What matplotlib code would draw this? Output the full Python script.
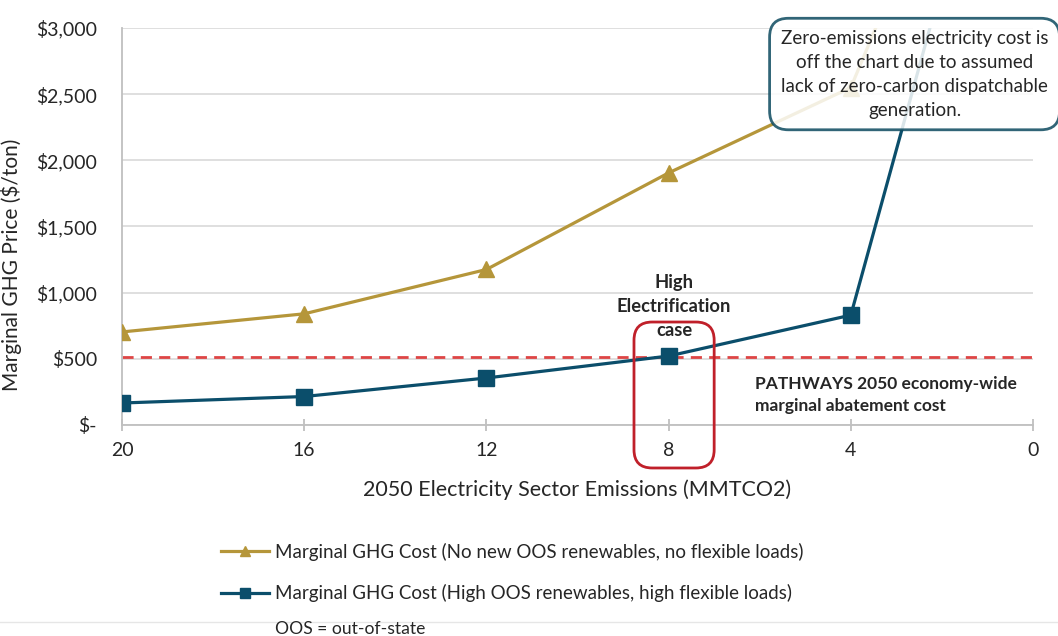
import matplotlib
matplotlib.use("Agg")
import matplotlib.pyplot as plt
from matplotlib.lines import Line2D
from matplotlib.patches import FancyBboxPatch
from matplotlib.ticker import FuncFormatter

plt.rcParams["font.family"] = ["Lato", "DejaVu Sans"]

# values
emissions = [20, 16, 12, 8, 4, 2]
cost_no_oos = [703, 840, 1175, 1905, 2550, 4200]
cost_high_oos = [166, 215, 355, 521, 830, 3330]
pathways_cost = 515
highlight_x = 8

x_ticks = [20, 16, 12, 8, 4, 0]
y_ticks = [0, 500, 1000, 1500, 2000, 2500, 3000]

label_no_oos = "Marginal GHG Cost (No new OOS renewables, no flexible loads)"
label_high_oos = "Marginal GHG Cost (High OOS renewables, high flexible loads)"

GOLD = "#b5963a"
TEAL = "#0b4e6b"
RED_DASH = "#de4545"
RED_BOX = "#c0202a"
GRID = "#d9d9d9"
TEXT = "#262626"

fig = plt.figure(figsize=(10.58, 6.36), dpi=100)
ax = fig.add_axes([0.1153, 0.3318, 0.8611, 0.6242])

ax.plot(emissions, cost_no_oos, color=GOLD, linewidth=2.3, marker="^",
        markersize=12, label=label_no_oos, zorder=3)
ax.plot(emissions, cost_high_oos, color=TEAL, linewidth=2.3, marker="s",
        markersize=11.5, label=label_high_oos, zorder=3)
ax.axhline(pathways_cost, color=RED_DASH, linewidth=2, dashes=(4, 2.6), zorder=2)

ax.set_xlim(20, 0)
ax.set_ylim(0, 3000)
ax.set_xticks(x_ticks)
ax.set_yticks(y_ticks)
ax.yaxis.set_major_formatter(FuncFormatter(lambda v, _: "$-" if v == 0 else f"${v:,.0f}"))
ax.grid(axis="y", color=GRID, linewidth=1.2, zorder=0)
ax.set_axisbelow(True)

for side in ("top", "right"):
    ax.spines[side].set_visible(False)
for side in ("left", "bottom"):
    ax.spines[side].set_color("#bfbfbf")
    ax.spines[side].set_linewidth(1.3)

ax.tick_params(axis="x", direction="inout", length=8, width=1.3, color="#bfbfbf",
               labelsize=14, labelcolor=TEXT, pad=8)
ax.tick_params(axis="y", length=0, labelsize=14, labelcolor=TEXT, pad=18)

ax.set_xlabel("2050 Electricity Sector Emissions (MMTCO2)", fontsize=15.5, color=TEXT, labelpad=15)
ax.set_ylabel("Marginal GHG Price ($/ton)", fontsize=15, color=TEXT)
ax.yaxis.set_label_coords(-0.11, 0.403)

# highlight box around the High Electrification case
box = FancyBboxPatch((highlight_x - 1.0, -325), 1.76, 1103,
                     boxstyle="round,pad=0,rounding_size=0.4",
                     mutation_aspect=344, fill=False, edgecolor=RED_BOX,
                     linewidth=2, clip_on=False, zorder=4)
ax.add_patch(box)

ax.text(highlight_x - 0.12, 892, "High\nElectrification\ncase", ha="center", va="center",
        fontsize=13.2, fontweight="bold", color=TEXT, linespacing=1.5, zorder=5)
ax.text(0.695, 0.076, "PATHWAYS 2050 economy-wide\nmarginal abatement cost",
        transform=ax.transAxes, ha="left", va="center", fontsize=12.5,
        fontweight="bold", color=TEXT, linespacing=1.45, zorder=5)

ax.text(0.870, 0.884,
        "Zero-emissions electricity cost is\noff the chart due to assumed\n"
        "lack of zero-carbon dispatchable\ngeneration.",
        transform=ax.transAxes, ha="center", va="center", fontsize=13.5,
        color=TEXT, linespacing=1.5, zorder=6, clip_on=False,
        bbox=dict(boxstyle="round,pad=0.6,rounding_size=1.0", facecolor="white",
                  edgecolor="#0d4a5f", linewidth=2, alpha=0.85))

fig.legend(loc="upper left", bbox_to_anchor=(0.209, 0.147), frameon=False,
           fontsize=13.5, handlelength=2.55, handletextpad=0.3, labelspacing=1.25,
           markerscale=0.65, borderpad=0, borderaxespad=0, labelcolor=TEXT)

fig.add_artist(Line2D([0, 1], [1 - 622 / 636] * 2, transform=fig.transFigure,
                      color="#e6e6e6", linewidth=1))
fig.text(0.26, 1 - 634 / 636, "OOS = out-of-state", ha="left", va="baseline",
         fontsize=12.6, color=TEXT)

fig.savefig("out.png", dpi=100)
